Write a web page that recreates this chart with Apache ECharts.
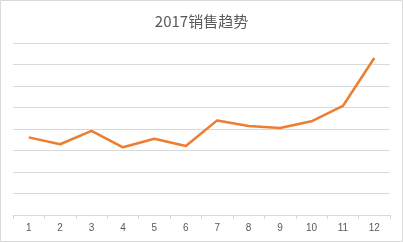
<!DOCTYPE html>
<html><head><meta charset="utf-8">
<script src="https://cdn.jsdelivr.net/npm/echarts@6/dist/echarts.min.js"></script>
<style>html,body{margin:0;padding:0;background:#fff}#c{width:403px;height:242px}</style>
</head><body><div id="c"></div>
<script>
const title = '2017销售趋势';
const months = ['1','2','3','4','5','6','7','8','9','10','11','12'];
const sales = [3.61, 3.29, 3.91, 3.15, 3.55, 3.21, 4.40, 4.14, 4.05, 4.36, 5.07, 7.30];

const chart = echarts.init(document.getElementById('c'), null, {renderer:'canvas'});
chart.setOption({
  animation:false,
  backgroundColor:'#fff',
  title:{text:title,left:'center',top:9,textStyle:{fontFamily:'Noto Sans CJK SC',fontSize:15,fontWeight:'normal',color:'#595959'}},
  graphic:[{type:'rect',shape:{x:0.5,y:0.5,width:402,height:241},style:{fill:'none',stroke:'#d9d9d9',lineWidth:1},silent:true}],
  grid:{left:13,right:13,top:43,bottom:27},
  xAxis:{type:'category',data:months,boundaryGap:true,
    axisLine:{lineStyle:{color:'#d9d9d9',width:1}},
    axisTick:{show:true,length:4,lineStyle:{color:'#d9d9d9'}},
    axisLabel:{color:'#595959',fontSize:10,fontFamily:'Liberation Sans',margin:8}},
  yAxis:{type:'value',min:0,max:8,interval:1,
    axisLine:{show:false},axisTick:{show:false},axisLabel:{show:false},
    splitLine:{lineStyle:{color:'#d9d9d9',width:1}}},
  series:[{type:'line',data:sales,symbol:'none',lineStyle:{color:'#ED7D31',width:2.5},itemStyle:{color:'#ED7D31'}}]
});
</script></body></html>
